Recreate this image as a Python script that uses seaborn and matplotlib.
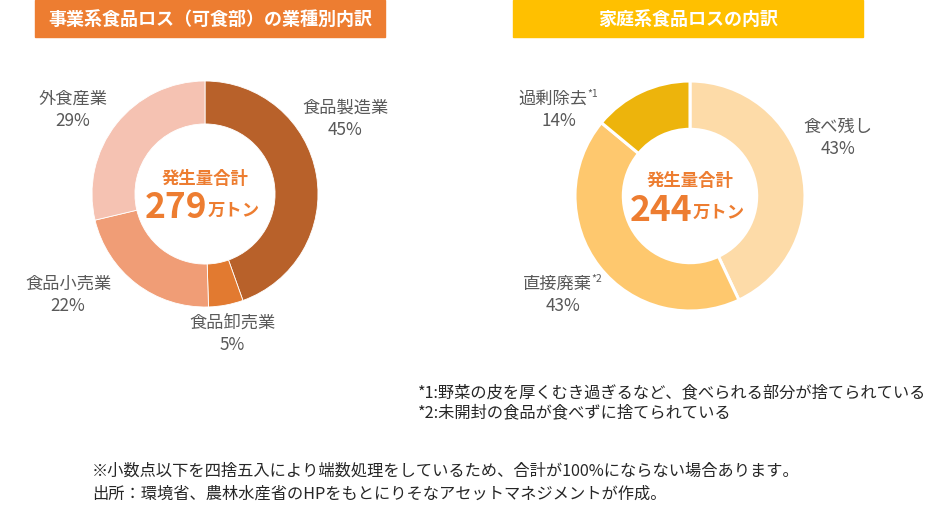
import matplotlib
matplotlib.use("Agg")
import matplotlib.pyplot as plt
import seaborn as sns
from matplotlib.patches import Rectangle

sns.set_theme(style="white")
plt.rcParams['font.family'] = ['Noto Sans CJK JP', 'DejaVu Sans']

# data
biz_labels = ['食品製造業', '食品卸売業', '食品小売業', '外食産業']
biz_values = [45, 5, 22, 29]
biz_colors = ['#B8612A', '#E27A30', '#F09D76', '#F5C2B2']
biz_total = '279'

home_labels = ['食べ残し', '直接廃棄', '過剰除去']
home_values = [43, 43, 14]
home_colors = ['#FDDBA8', '#FEC86E', '#EDB40C']
home_marks = ['', '*2', '*1']
home_total = '244'

title_left = '事業系食品ロス（可食部）の業種別内訳'
title_right = '家庭系食品ロスの内訳'
footnotes = ['*1:野菜の皮を厚くむき過ぎるなど、食べられる部分が捨てられている',
             '*2:未開封の食品が食べずに捨てられている']
notes = ['※小数点以下を四捨五入により端数処理をしているため、合計が100%にならない場合あります。',
         '出所：環境省、農林水産省のHPをもとにりそなアセットマネジメントが作成。']

W, H = 943, 516
fig = plt.figure(figsize=(W / 100, H / 100), dpi=100)


def px(x, y):
    return x / W, 1 - y / H


gray = '#595959'
orange = '#ED7D31'

# title boxes
for x0, txt, col in [(35, title_left, '#ED7D31'), (513, title_right, '#FFC000')]:
    fig.patches.append(Rectangle(px(x0, 37), 350 / W, 37 / H, transform=fig.transFigure,
                                 color=col, zorder=0))
    fig.text(*px(x0 + 175, 19), txt, color='white', fontsize=13, fontweight='bold',
             ha='center', va='center')


def donut(cx, cy, r, width, values, colors, lw, total):
    ax = fig.add_axes([(cx - r) / W, (H - cy - r) / H, 2 * r / W, 2 * r / H])
    ax.pie(values, colors=colors, startangle=90, counterclock=False, radius=1,
           wedgeprops=dict(width=width, edgecolor='white', linewidth=lw))
    ax.set_xlim(-1, 1)
    ax.set_ylim(-1, 1)
    ax.set_aspect('equal')
    ax.axis('off')
    fig.text(*px(cx, cy - 15), '発生量合計', color=orange, fontsize=12.5,
             fontweight='bold', ha='center', va='center')
    fig.text(*px(cx - 29, cy + 14), total, color=orange, fontsize=25.5,
             fontweight='bold', ha='center', va='center')
    fig.text(*px(cx + 29, cy + 17), '万トン', color=orange, fontsize=12.5,
             fontweight='bold', ha='center', va='center')
    return ax


donut(205, 194, 113, 0.38, biz_values, biz_colors, 0.6, biz_total)
donut(690, 196, 115, 0.42, home_values, home_colors, 2.2, home_total)

# left labels
biz_pos = [(345, 108), (232, 323), (68, 284), (73, 99)]
for (x, y), lab, v in zip(biz_pos, biz_labels, biz_values):
    fig.text(*px(x, y), lab, color=gray, fontsize=12.4, ha='center', va='center')
    fig.text(*px(x, y + 22), f'{v}%', color=gray, fontsize=12.4, ha='center', va='center')

# right labels
home_pos = [(838, 127), (557, 284), (553, 99)]
for (x, y), lab, v, m in zip(home_pos, home_labels, home_values, home_marks):
    fig.text(*px(x, y), lab, color=gray, fontsize=12.4, ha='center', va='center')
    if m:
        fig.text(*px(x + 34, y - 5), m, color=gray, fontsize=7.5, ha='left', va='center')
    xx = x if not m else x + 6
    fig.text(*px(xx, y + 22), f'{v}%', color=gray, fontsize=12.4, ha='center', va='center')

for i, s in enumerate(footnotes):
    fig.text(*px(418, 393 + 20 * i), s, color='#262626', fontsize=11.7,
             ha='left', va='center')

for i, s in enumerate(notes):
    fig.text(*px(92, 471 + 23 * i), s, color='#262626', fontsize=11.7,
             ha='left', va='center')

fig.savefig('out.png', dpi=100, facecolor='white')
